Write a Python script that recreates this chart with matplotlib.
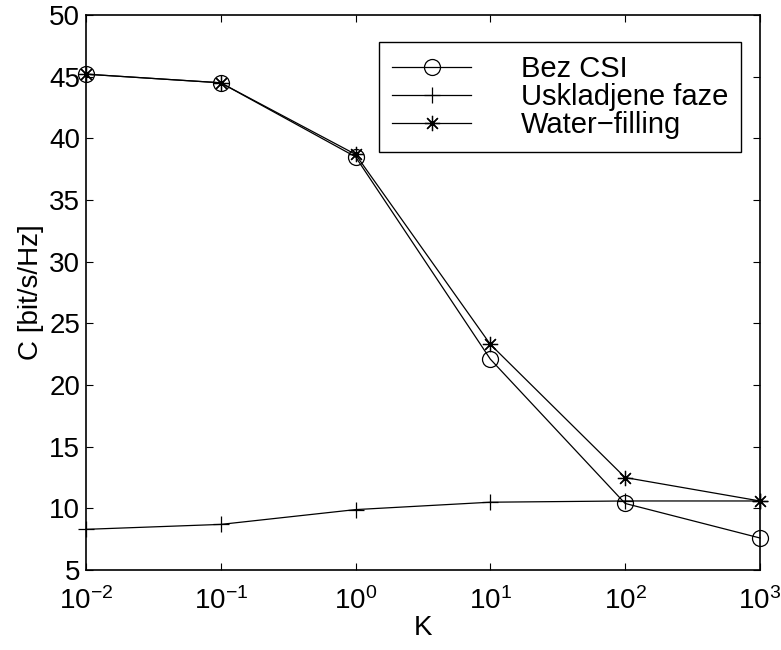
import matplotlib
matplotlib.use('Agg')
import matplotlib.pyplot as plt
import numpy as np

K = [1e-2, 1e-1, 1e0, 1e1, 1e2, 1e3]
bez_csi = [45.2, 44.5, 38.5, 22.1, 10.4, 7.6]
uskladjene = [8.3, 8.7, 9.9, 10.5, 10.6, 10.6]
water_filling = [45.2, 44.5, 38.7, 23.3, 12.5, 10.6]

plt.rcParams['font.family'] = ['Liberation Sans', 'DejaVu Sans']
plt.rcParams['xtick.direction'] = 'in'
plt.rcParams['ytick.direction'] = 'in'

fig = plt.figure(figsize=(7.81, 6.5), dpi=100)
ax = fig.add_axes([0.110, 0.123, 0.863, 0.854])

lw = 0.9
ax.plot(K, bez_csi, 'k-', marker='o', mfc='none', ms=11.5, mew=lw, lw=lw,
        label='Bez CSI', clip_on=False)
ax.plot(K, uskladjene, 'k-', marker='+', ms=11, mew=lw, lw=lw,
        label='Uskladjene faze', clip_on=False)
ax.plot(K, water_filling, 'k-', marker=(8, 2, 0), ms=11, mew=lw, lw=lw,
        label='Water\u2212filling', clip_on=False)

ax.set_xscale('log')
ax.set_xlim(1e-2, 1e3)
ax.set_ylim(5, 50)
ax.set_xticks(K)
ax.xaxis.set_minor_locator(matplotlib.ticker.NullLocator())
ax.set_yticks(np.arange(5, 51, 5))
ax.tick_params(which='both', top=True, right=True, labelsize=20,
               length=5, width=0.8, pad=4)
ax.tick_params(axis='x', pad=12)
for s in ax.spines.values():
    s.set_linewidth(1.2)

ax.set_xlabel('K', fontsize=20, labelpad=0)
ax.set_ylabel('C [bit/s/Hz]', fontsize=20, labelpad=4)

leg = ax.legend(loc='upper right', bbox_to_anchor=(0.972, 0.951), fontsize=21,
                handlelength=2.7, handletextpad=1.7, borderpad=0.45,
                labelspacing=0.0, fancybox=False, framealpha=1,
                edgecolor='k', borderaxespad=0)
leg.get_frame().set_linewidth(1.0)

fig.savefig('out.png', dpi=100)
